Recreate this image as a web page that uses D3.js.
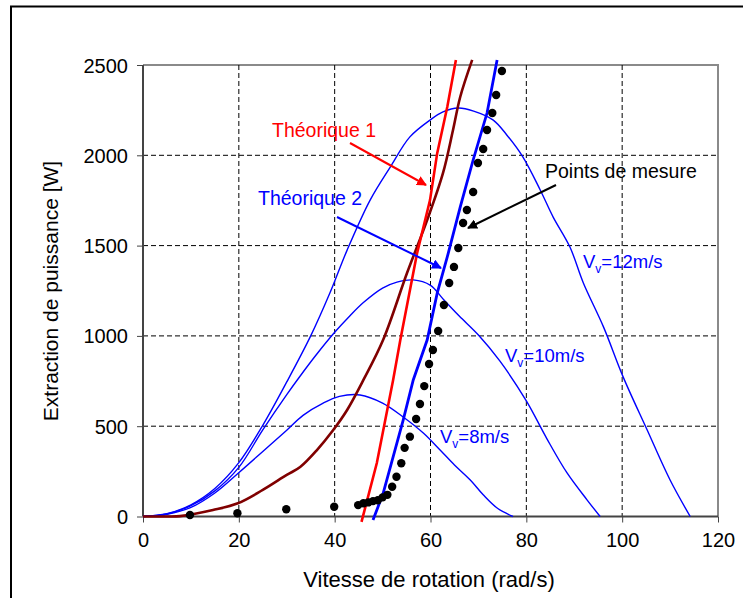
<!DOCTYPE html>
<html>
<head>
<meta charset="utf-8">
<script src="https://cdn.jsdelivr.net/npm/d3@7"></script>
<style>
  html, body { margin: 0; padding: 0; background: #fff; }
  svg { display: block; font-family: Arial, "Liberation Sans", Helvetica, sans-serif; }
</style>
</head>
<body>
<svg id="chart" width="743" height="598"></svg>
<script>
// ---- Data ----
const xTicks = [0, 20, 40, 60, 80, 100, 120];
const yTicks = [0, 500, 1000, 1500, 2000, 2500];

// Theoretical power curves for wind speeds (omega rad/s, P W)
const v12Omega = [0, 5, 10, 15, 20, 25, 30, 35, 39, 42.6, 47.4, 51.6, 55.7, 59.9, 62.6, 65.8, 69, 73.1, 76, 79.3, 82.9, 85.6, 89.1, 91.9, 96.1, 100.2, 105.2, 110, 114.2];
const v12Power = [0, 15, 65, 155, 298, 505, 745, 1000, 1237, 1475, 1752, 1935, 2102, 2195, 2240, 2262, 2245, 2195, 2110, 1990, 1808, 1658, 1492, 1293, 1050, 773, 480, 202, 0];

const v10Omega = [0, 5, 10, 15, 20, 25, 30, 33, 36, 40, 43.2, 46, 50, 53, 56.4, 60, 62.6, 66, 70, 74.5, 80, 84.3, 88.5, 92.7, 95.4];
const v10Power = [0, 14, 60, 142, 272, 480, 675, 785, 890, 1020, 1112, 1185, 1265, 1298, 1310, 1280, 1205, 1110, 1005, 860, 640, 430, 241, 91, 0];

const v8Omega = [0, 5, 10, 15, 19.8, 25, 30, 33.4, 37.6, 41, 45.3, 50, 54.3, 58.5, 62, 65, 68.3, 71, 73.9, 77.2];
const v8Power = [0, 12, 50, 130, 238, 360, 478, 560, 628, 665, 673, 628, 551, 462, 368, 285, 202, 120, 47, 0];

// Dark red curve
const darkOmega = [0, 5, 7.7, 14.6, 19.8, 25, 30, 32.8, 36.3, 39.7, 42.6, 46, 50.1, 55.1, 59.3, 62.6, 64.7, 66.2, 68.7];
const darkPower = [0, 0, 2, 36, 73, 147, 230, 274, 368, 479, 590, 756, 977, 1348, 1641, 1901, 2140, 2323, 2528];

// Théorique 1 (red)
const th1Omega = [45.6, 48.8, 52.2, 53.7, 57.2, 59.9, 61.4, 63.5, 65.3];
const th1Power = [-30, 296, 756, 977, 1458, 1752, 2012, 2267, 2528];

// Théorique 2 (blue, thick)
const th2Omega = [48, 50.1, 54.3, 56.4, 59.3, 61.4, 63.5, 66.2, 68.9, 71.8, 73.9];
const th2Power = [-20, 127, 534, 756, 977, 1237, 1437, 1713, 1974, 2234, 2528];

// Points de mesure
const measOmega = [9.8, 19.7, 29.9, 39.9, 44.9, 46, 47, 48, 49, 50, 51, 52, 52.9, 53.9, 54.6, 55.7, 57, 57.8, 58.7, 59.7, 60.5, 61.6, 62.8, 63.9, 64.9, 65.8, 66.8, 67.6, 68.9, 69.9, 71, 71.8, 72.9, 73.7, 74.9];
const measPower = [8, 18, 40, 54, 63, 73, 78, 85, 90, 106, 120, 165, 220, 295, 380, 442, 540, 623, 722, 844, 922, 1027, 1171, 1293, 1382, 1487, 1625, 1697, 1797, 1957, 2035, 2140, 2234, 2334, 2467];

const xTitle = "Vitesse de rotation (rad/s)";
const yTitle = "Extraction de puissance [W]";

// ---- Chart ----
const svg = d3.select("#chart");
const x = d3.scaleLinear().domain([0, 120]).range([143, 718]);
const y = d3.scaleLinear().domain([0, 2500]).range([516.5, 65]);

// outer frame
svg.append("rect").attr("x", 11).attr("y", 6.5).attr("width", 760).attr("height", 620)
  .attr("fill", "none").attr("stroke", "#000").attr("stroke-width", 2);

// plot border (gray top/right)
svg.append("path")
  .attr("d", `M${x(0)},${y(2500)}H${x(120)}V${y(0)}`)
  .attr("fill", "none").attr("stroke", "#8a8a8a").attr("stroke-width", 2);

// grid
const grid = svg.append("g");
grid.selectAll("line.v").data(xTicks.filter(d => d > 0 && d < 120)).join("line")
  .attr("x1", d => x(d)).attr("x2", d => x(d)).attr("y1", y(2500)).attr("y2", y(0))
  .attr("stroke", "#000").attr("stroke-width", 1).attr("stroke-dasharray", "5,3");
grid.selectAll("line.h").data(yTicks.filter(d => d > 0 && d < 2500)).join("line")
  .attr("x1", x(0)).attr("x2", x(120)).attr("y1", d => y(d)).attr("y2", d => y(d))
  .attr("stroke", "#000").attr("stroke-width", 1).attr("stroke-dasharray", "5,3");

// axes
const xAxis = svg.append("g").attr("transform", `translate(0,${y(0)})`)
  .call(d3.axisBottom(x).tickValues(xTicks).tickFormat(d3.format("d")).tickSize(6).tickPadding(10));
const yAxis = svg.append("g").attr("transform", `translate(${x(0)},0)`)
  .call(d3.axisLeft(y).tickValues(yTicks).tickFormat(d3.format("d")).tickSize(6).tickPadding(9));
[xAxis, yAxis].forEach(a => {
  a.select(".domain").attr("stroke", "#444").attr("stroke-width", 2);
  a.selectAll(".tick line").attr("stroke", "#444").attr("stroke-width", 1);
  a.selectAll(".tick text").attr("fill", "#000").style("font-size", "20px")
    .style("font-family", 'Arial, "Liberation Sans", sans-serif');
});
xAxis.select(".domain").attr("d", `M${x(0)},0H${x(120)}`);
yAxis.select(".domain").attr("d", `M0,${y(0)}V${y(2500)}`);
yAxis.selectAll(".tick text").attr("dy", "0.35em");

// titles
svg.append("text").attr("x", 429).attr("y", 587).attr("text-anchor", "middle")
  .style("font-size", "22px").text(xTitle);
svg.append("text").attr("transform", "translate(58,291) rotate(-90)").attr("text-anchor", "middle")
  .style("font-size", "21px").text(yTitle);

const zip = (a, b) => a.map((d, i) => [d, b[i]]);
const smooth = d3.line().x(d => x(d[0])).y(d => y(d[1])).curve(d3.curveCatmullRom.alpha(0.5));
const straight = d3.line().x(d => x(d[0])).y(d => y(d[1]));

const curves = svg.append("g").attr("fill", "none");
[[v12Omega, v12Power], [v10Omega, v10Power], [v8Omega, v8Power]].forEach(([o, p]) => {
  curves.append("path").attr("d", smooth(zip(o, p))).attr("stroke", "#0000ff").attr("stroke-width", 1.4);
});
curves.append("path").attr("d", smooth(zip(darkOmega, darkPower))).attr("stroke", "#800000").attr("stroke-width", 2.6);
curves.append("path").attr("d", straight(zip(th1Omega, th1Power))).attr("stroke", "#ff0000").attr("stroke-width", 2.6);
curves.append("path").attr("d", straight(zip(th2Omega, th2Power))).attr("stroke", "#0000ff").attr("stroke-width", 2.8);

svg.append("g").selectAll("circle").data(zip(measOmega, measPower)).join("circle")
  .attr("cx", d => x(d[0])).attr("cy", d => y(d[1])).attr("r", 4.2).attr("fill", "#000");

// arrow markers
const defs = svg.append("defs");
[["arR", "#ff0000"], ["arB", "#0000ff"], ["arK", "#000"]].forEach(([id, c]) => {
  defs.append("marker").attr("id", id).attr("viewBox", "0 0 10 10").attr("refX", 9).attr("refY", 5)
    .attr("markerWidth", 10).attr("markerHeight", 10).attr("markerUnits", "userSpaceOnUse").attr("orient", "auto")
    .append("path").attr("d", "M0,0L10,5L0,10Z").attr("fill", c);
});

const ann = svg.append("g");
ann.append("line").attr("x1", 350).attr("y1", 143).attr("x2", 426).attr("y2", 185)
  .attr("stroke", "#ff0000").attr("stroke-width", 2).attr("marker-end", "url(#arR)");
ann.append("line").attr("x1", 337).attr("y1", 217).attr("x2", 441).attr("y2", 268)
  .attr("stroke", "#0000ff").attr("stroke-width", 2).attr("marker-end", "url(#arB)");
ann.append("line").attr("x1", 556).attr("y1", 185).attr("x2", 468).attr("y2", 228)
  .attr("stroke", "#000").attr("stroke-width", 2).attr("marker-end", "url(#arK)");

ann.append("text").attr("x", 272).attr("y", 137).attr("fill", "#ff0000").style("font-size", "19.5px").text("Théorique 1");
ann.append("text").attr("x", 258).attr("y", 205).attr("fill", "#0000ff").style("font-size", "19.5px").text("Théorique 2");
ann.append("text").attr("x", 545).attr("y", 178).attr("fill", "#000").style("font-size", "19.5px").text("Points de mesure");

function vLabel(px, py, rest) {
  const t = ann.append("text").attr("x", px).attr("y", py).attr("fill", "#0000ff").style("font-size", "18.5px");
  t.append("tspan").text("V");
  t.append("tspan").attr("dy", 5).style("font-size", "12px").text("v");
  t.append("tspan").attr("dy", -5).text(rest);
}
vLabel(583, 268, "=12m/s");
vLabel(505, 362, "=10m/s");
vLabel(440, 443, "=8m/s");
</script>
</body>
</html>
